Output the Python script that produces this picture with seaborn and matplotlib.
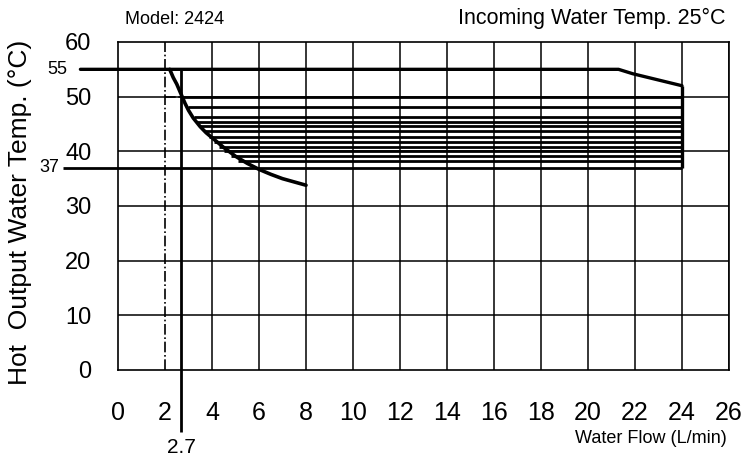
import numpy as np
import pandas as pd
import matplotlib
matplotlib.use("Agg")
import matplotlib.pyplot as plt
import seaborn as sns

# Dados (vazão em L/min, temperatura em °C)
curve_flow = [2.2, 2.35, 2.5, 2.7, 2.85, 3.0, 3.2, 3.5, 3.75, 4.0, 4.5, 5.0, 5.5, 6.0, 6.5, 7.0, 7.5, 8.0]
curve_temp = [55.0, 53.5, 52.3, 50.3, 48.8, 47.5, 46.1, 44.5, 43.4, 42.5, 40.7, 39.1, 37.8, 36.7, 35.8, 35.0, 34.4, 33.8]

top_flow = [-1.6, 21.3, 21.9, 24.0]
top_temp = [55.0, 55.0, 54.2, 52.0]

hatch_temp = [50.0, 48.2, 46.2, 45.4, 44.6, 43.7, 42.6, 41.7, 40.8, 40.0, 39.2, 38.3]
hatch_start = [2.72, 2.96, 3.24, 3.35, 3.47, 3.64, 3.86, 4.07, 4.30, 4.53, 4.79, 5.11]
hatch_end = 24.0

min_temp = 37.0
min_flow = 2.7

x_ticks = list(range(0, 27, 2))
y_ticks = list(range(0, 61, 10))

sns.set_theme(style="white")
plt.rcParams['font.family'] = ['Liberation Sans', 'DejaVu Sans']

fig = plt.figure(figsize=(7.45, 4.61), dpi=100)
ax = fig.add_axes([0.1584, 0.1974, 0.8201, 0.7115])
ax.set_xlim(0, 26)
ax.set_ylim(0, 60)

# grade
for x in x_ticks[1:]:
    if x == 2:
        ax.axvline(x, color='black', lw=1.2, ls='-.', zorder=1)
    else:
        ax.axvline(x, color='black', lw=1.1, zorder=1)
for y in y_ticks[1:-1]:
    ax.axhline(y, color='black', lw=1.1, zorder=1)
for s in ax.spines.values():
    s.set_color('black')
    s.set_linewidth(1.2)

# curva de temperatura
df_curve = pd.DataFrame({'flow': curve_flow, 'temp': curve_temp})
sns.lineplot(data=df_curve, x='flow', y='temp', ax=ax, color='black', lw=2.6, estimator=None, sort=False)

# linha de 55 °C
line55 = sns.lineplot(x=top_flow, y=top_temp, ax=ax, color='black', lw=2.4, estimator=None, sort=False)
line55.lines[-1].set_clip_on(False)

# hachuras
ax.hlines(hatch_temp, hatch_start, hatch_end, color='black', lw=2.0, zorder=3)
ax.hlines([min_temp], [-2.34], [hatch_end], color='black', lw=2.0, zorder=3, clip_on=False)
ax.vlines([hatch_end], [min_temp], [top_temp[-1]], color='black', lw=2.4, zorder=3)
ax.hlines([50], [2.0], [min_flow], color='black', lw=1.2, ls='-.', zorder=2)

# vazão mínima 2.7
ax.vlines([min_flow], [-11.3], [55], color='black', lw=2.0, zorder=3, clip_on=False)
ax.text(min_flow, -14.2, "2.7", ha='center', va='center', fontsize=15, color='black', clip_on=False)

ax.set_xticks(x_ticks)
ax.set_yticks(y_ticks)
ax.tick_params(axis='x', length=0, pad=22, labelsize=18, colors='black')
ax.tick_params(axis='y', length=0, pad=19, labelsize=17, colors='black')
ax.set_xlabel("")
ax.set_ylabel("")

ax.text(-2.17, 55, "55", ha='right', va='center', fontsize=13, color='black', clip_on=False)
ax.text(-2.5, 37, "37", ha='right', va='center', fontsize=13, color='black', clip_on=False)

fig.text(125 / 745, 1 - 20 / 461, "Model: 2424", ha='left', va='center', fontsize=13, color='black')
fig.text(725 / 745, 1 - 18 / 461, "Incoming Water Temp. 25°C", ha='right', va='center',
         fontsize=15.5, color='black')
fig.text(727 / 745, 1 - 438 / 461, "Water Flow (L/min)", ha='right', va='center', fontsize=13, color='black')
fig.text(20 / 745, 1 - 212 / 461, "Hot  Output Water Temp. (°C)", rotation=90, ha='center', va='center',
         fontsize=19, color='black')

fig.savefig("out.png", dpi=100, facecolor='white')
